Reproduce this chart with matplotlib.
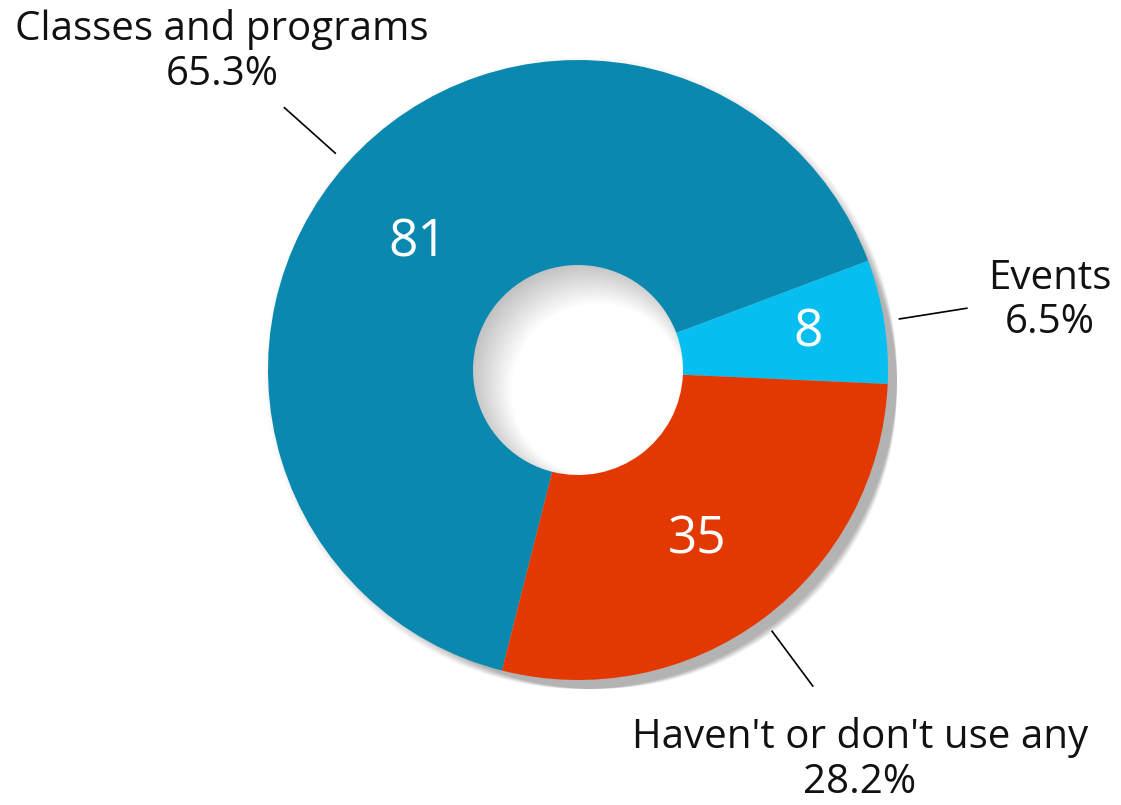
import numpy as np
import matplotlib.pyplot as plt
from matplotlib.patches import Wedge

plt.rcParams['font.family'] = ['Open Sans', 'DejaVu Sans']

# data
categories = ["Classes and programs", "Events", "Haven't or don't use any"]
counts = [81, 8, 35]
percents = ["65.3%", "6.5%", "28.2%"]
colors = ["#0B88B0", "#07BEF1", "#E33900"]

fig = plt.figure(figsize=(11.21, 8.05), dpi=100)
ax = fig.add_axes([0, 0, 1, 1])

cx, cy = 578, 435
R = 310
hole = 105
start = 255.8

# soft shadow, offset down-right
for i in range(20):
    off = 3 + i * 0.9
    ax.add_patch(Wedge((cx + off, cy - off), R + 6 - i * 0.9, 0, 360,
                       width=R - hole - 10 + i * 0.9, color="black",
                       alpha=0.014, lw=0))

wedges, _ = ax.pie(counts, colors=colors, startangle=start, counterclock=False,
                   center=(cx, cy), radius=R, frame=True,
                   wedgeprops=dict(width=R - hole, linewidth=0))
ax.set_xlim(0, 1121)
ax.set_ylim(0, 805)
ax.set_aspect("equal")
ax.axis("off")

# label placement (radius, angle shift) for the numbers, and outer labels
num_pos = [(204, 3.4), (233, 0), (208, -1.6)]
label_pos = [(222, 805 - 52), (1050, 805 - 301), (860, 805 - 760)]
for w, n, cat, pct, npos, lp in zip(wedges, counts, categories, percents,
                                    num_pos, label_pos):
    mid_deg = (w.theta1 + w.theta2) / 2
    mid = np.deg2rad(mid_deg)
    a = np.deg2rad(mid_deg + npos[1])
    ax.text(cx + npos[0] * np.cos(a), cy + npos[0] * np.sin(a), str(n),
            color="white", fontsize=37, ha="center", va="center")
    ax.plot([cx + 1.05 * R * np.cos(mid), cx + 1.27 * R * np.cos(mid)],
            [cy + 1.05 * R * np.sin(mid), cy + 1.27 * R * np.sin(mid)],
            color="black", lw=1.2)
    ax.text(lp[0], lp[1], cat + "\n" + pct, fontsize=29, ha="center",
            va="center", linespacing=1.13, color="#111111")

fig.savefig("out.png", dpi=100)
